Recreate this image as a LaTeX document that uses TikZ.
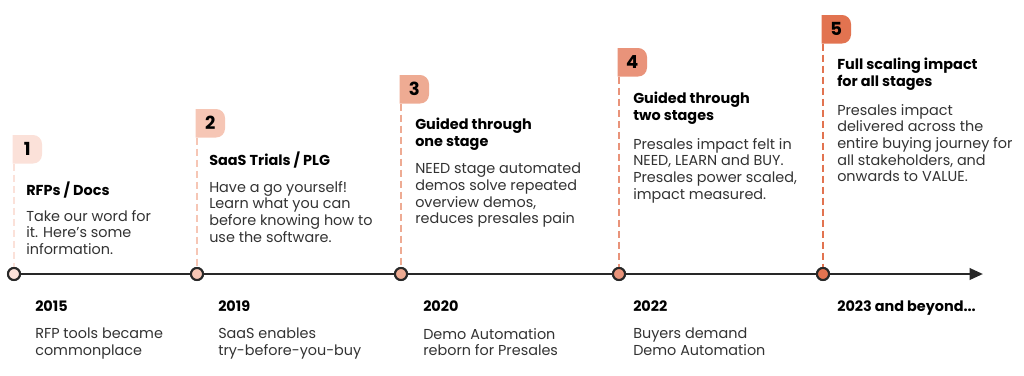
\documentclass[tikz,border=0pt]{standalone}
\usepackage{fontspec}
\setmainfont{Poppins}
\usepackage{tikz}
\usetikzlibrary{positioning,arrows.meta,calc,backgrounds}
\definecolor{ink}{RGB}{40,40,40}
\definecolor{bodyink}{RGB}{50,50,50}
\definecolor{stepa}{RGB}{251,225,217}
\definecolor{stepb}{RGB}{246,198,181}
\definecolor{stepc}{RGB}{238,171,147}
\definecolor{stepd}{RGB}{233,147,122}
\definecolor{stepe}{RGB}{226,115,80}

\begin{document}
\begin{tikzpicture}[
  x=0.75pt, y=0.75pt,
  every node/.style={font=\fontsize{10.8}{12.5}\selectfont, inner sep=0pt},
  flagbox/.style={minimum width=21.75pt, minimum height=21pt, anchor=north west,
                  font=\fontsize{13.5}{13.5}\selectfont\bfseries, text=black},
  pole/.style={line width=1.5pt, dash pattern=on 5.25pt off 3pt},
  dot/.style={circle, draw=ink, line width=1.5pt, minimum size=9pt},
  title/.style={anchor=north west, align=left, font=\fontsize{10.8}{12.5}\selectfont\bfseries, text=black},
  body/.style={anchor=north west, align=left, text=bodyink},
  year/.style={anchor=north west, font=\fontsize{10.8}{12.5}\selectfont\bfseries, text=black}
]
  \useasboundingbox (0,0) rectangle (1024,-375);

  % flags
  \node[flagbox] (flag1) at (12.5,-135) {1};
  \node[flagbox] (flag2) at (195.5,-109) {2};
  \node[flagbox] (flag3) at (399.5,-75) {3};
  \node[flagbox] (flag4) at (617.5,-48) {4};
  \node[flagbox] (flag5) at (821.5,-15) {5};
  \begin{scope}[on background layer]
  \fill[stepa] (flag1.south west) |- ([xshift=-6.75pt]flag1.north east) arc[start angle=90, end angle=0, radius=6.75pt]
    -- ([yshift=6.75pt]flag1.south east) arc[start angle=0, end angle=-90, radius=6.75pt] -- cycle;
  \fill[stepb] (flag2.south west) |- ([xshift=-6.75pt]flag2.north east) arc[start angle=90, end angle=0, radius=6.75pt]
    -- ([yshift=6.75pt]flag2.south east) arc[start angle=0, end angle=-90, radius=6.75pt] -- cycle;
  \fill[stepc] (flag3.south west) |- ([xshift=-6.75pt]flag3.north east) arc[start angle=90, end angle=0, radius=6.75pt]
    -- ([yshift=6.75pt]flag3.south east) arc[start angle=0, end angle=-90, radius=6.75pt] -- cycle;
  \fill[stepd] (flag4.south west) |- ([xshift=-6.75pt]flag4.north east) arc[start angle=90, end angle=0, radius=6.75pt]
    -- ([yshift=6.75pt]flag4.south east) arc[start angle=0, end angle=-90, radius=6.75pt] -- cycle;
  \fill[stepe] (flag5.south west) |- ([xshift=-6.75pt]flag5.north east) arc[start angle=90, end angle=0, radius=6.75pt]
    -- ([yshift=6.75pt]flag5.south east) arc[start angle=0, end angle=-90, radius=6.75pt] -- cycle;
  \end{scope}

  % timeline
  \coordinate (tip) at (983,-274);
  \node[dot] (dot1) at (14,-274) {};
  \node[dot] (dot2) at (197,-274) {};
  \node[dot] (dot3) at (401,-274) {};
  \node[dot] (dot4) at (619,-274) {};
  \node[dot] (dot5) at (823,-274) {};
  \draw[pole, stepa] (flag1.south west -| dot1) -- (dot1);
  \draw[pole, stepb] (flag2.south west -| dot2) -- (dot2);
  \draw[pole, stepc] (flag3.south west -| dot3) -- (dot3);
  \draw[pole, stepd] (flag4.south west -| dot4) -- (dot4);
  \draw[pole, stepe] (flag5.south west -| dot5) -- (dot5);
  \draw[ink, line width=1.9pt, -{Triangle[length=10pt, width=8.5pt]}] (dot1) -- (tip);
  \node[dot, fill=stepa] at (dot1) {};
  \node[dot, fill=stepb] at (dot2) {};
  \node[dot, fill=stepc] at (dot3) {};
  \node[dot, fill=stepd] at (dot4) {};
  \node[dot, fill=stepe] at (dot5) {};

  % stages
  \node[title] (title1) at (26,-182) {RFPs / Docs};
  \node[body] (body1) at (26,-210) {Take our word for\\it. Here’s some\\information.};
  \node[title] (title2) at (209,-152) {SaaS Trials / PLG};
  \node[body] (body2) at (209,-181) {Have a go yourself!\\Learn what you can\\before knowing how to\\use the software.};
  \node[title] (title3) at (415,-118) {Guided through\\one stage};
  \node[body] (body3) at (415,-163) {NEED stage automated\\demos solve repeated\\overview demos,\\reduces presales pain};
  \node[title] (title4) at (633,-92) {Guided through\\two stages};
  \node[body] (body4) at (633,-138) {Presales impact felt in\\NEED, LEARN and BUY.\\Presales power scaled,\\impact measured.};
  \node[title] (title5) at (837,-58) {Full scaling impact\\for all stages};
  \node[body] (body5) at (837,-104) {Presales impact\\delivered across the\\entire buying journey for\\all stakeholders, and\\onwards to VALUE.};

  % years
  \node[year] (year1) at (35,-300) {2015};
  \node[body] (note1) at (35,-328) {RFP tools became\\commonplace};
  \node[year] (year2) at (218,-300) {2019};
  \node[body] (note2) at (218,-328) {SaaS enables\\try-before-you-buy};
  \node[year] (year3) at (423,-300) {2020};
  \node[body] (note3) at (423,-328) {Demo Automation\\reborn for Presales};
  \node[year] (year4) at (633,-300) {2022};
  \node[body] (note4) at (633,-328) {Buyers demand\\Demo Automation};
  \node[year] (year5) at (837,-300) {2023 and beyond...};
\end{tikzpicture}
\end{document}
